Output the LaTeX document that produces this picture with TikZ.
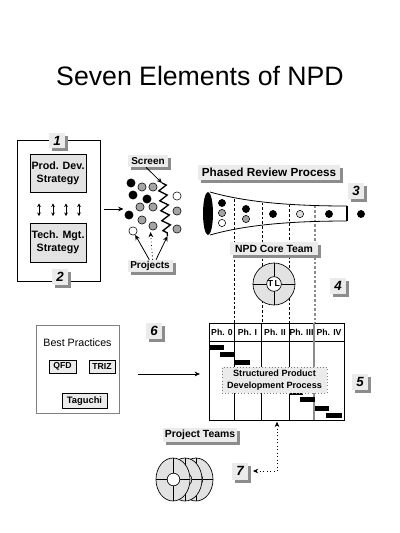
\documentclass[tikz,border=0pt]{standalone}
\usepackage{fontspec}
\setmainfont{Liberation Sans}
\usetikzlibrary{arrows.meta,shadows,decorations.pathmorphing}
\definecolor{lblfill}{HTML}{EBEBEB}
\definecolor{shadowc}{HTML}{8C8C8C}
\definecolor{boxfill}{HTML}{E3E3E3}
\definecolor{dotgray}{HTML}{A3A3A3}
\definecolor{ringfill}{HTML}{E2E2E2}
\definecolor{lightdot}{HTML}{DCDCDC}
\tikzset{
  shad/.style={drop shadow={shadow xshift=2.25pt, shadow yshift=-2.25pt, fill=shadowc, opacity=1}},
  lbl/.style={fill=lblfill, shad, inner xsep=2pt, inner ysep=0pt, font=\bfseries\fontsize{7.5}{9}\selectfont},
  numbox/.style={fill=lblfill, shad, minimum width=12pt, minimum height=11.5pt, inner sep=0pt, font=\bfseries\itshape\fontsize{10}{10}\selectfont},
  stratbox/.style={draw, line width=0.5pt, fill=boxfill, minimum width=42pt, minimum height=28.5pt, align=center, inner sep=0.5pt, font=\bfseries\fontsize{8}{10}\selectfont},
  dot/.style={circle, draw, line width=0.4pt, minimum size=6.2pt, inner sep=0pt},
  fdot/.style={circle, draw, line width=0.4pt, minimum size=5.4pt, inner sep=0pt},
  arr/.style={-{Stealth[length=4pt,width=3.5pt]}, line width=0.6pt},
  dblarr/.style={{Stealth[length=2.6pt,width=2.8pt]}-{Stealth[length=2.6pt,width=2.8pt]}, line width=0.5pt},
  smallbox/.style={draw, line width=0.5pt, fill=lblfill, inner sep=0pt, font=\bfseries\fontsize{6.5}{8}\selectfont},
  phase/.style={font=\bfseries\fontsize{6.5}{8}\selectfont, inner sep=0pt},
  vdash/.style={dash pattern=on 2pt off 1.5pt, line width=0.4pt},
}
\begin{document}
\begin{tikzpicture}[x=0.75pt,y=-0.75pt]
\useasboundingbox[fill=white] (0,0) rectangle (400,533);

% title
\node[anchor=base, inner sep=0pt, font=\fontsize{20}{22}\selectfont] (title) at (200,85) {Seven Elements of NPD};

% ---- element 1/2: strategy box
\node[draw, line width=0.6pt, minimum width=62.25pt, minimum height=105.75pt, inner sep=0pt] (bigbox) at (58.5,210.5) {};
\node[stratbox] (prod) at (58,173.5) {Prod. Dev.\\Strategy};
\node[stratbox, minimum height=29.25pt] (tech) at (58,242.5) {Tech. Mgt.\\Strategy};
\foreach \xx in {39,53,66,79}{
  \draw[dblarr, shorten <=8pt, shorten >=5pt] (prod.south -| \xx,0) -- (tech.north -| \xx,0);
}
\node[numbox] (n1) at (57,140.5) {1};
\node[numbox] (n2) at (60,277) {2};

% ---- screen and projects
\coordinate (clin) at (123.5,209);
\draw[arr, shorten <=3pt] (bigbox.east |- clin) -- (clin);

\node[dot, fill=black]    (d1)  at (131,183) {};
\node[dot, fill=dotgray]  (d2)  at (142,187) {};
\node[dot, fill=dotgray]  (d3)  at (153,187) {};
\node[dot, fill=black]    (d4)  at (133,195) {};
\node[dot, fill=black]    (d5)  at (147,199) {};
\node[dot, fill=white]    (d6)  at (177,196) {};
\node[dot, fill=dotgray]  (d7)  at (140,207) {};
\node[dot, fill=dotgray]  (d8)  at (153,207) {};
\node[dot, fill=black]    (d9)  at (129,215) {};
\node[dot, fill=dotgray]  (d10) at (142,220) {};
\node[dot, fill=dotgray]  (d11) at (153,226) {};
\node[dot, fill=dotgray]  (d12) at (177,211) {};
\node[dot, fill=white]    (d13) at (133,231) {};
\node[dot, fill=dotgray]  (d14) at (177,229) {};

\coordinate (zz1) at (162,183);
\coordinate (zz2) at (167.5,236);
\draw[line width=1pt, decorate, decoration={zigzag, segment length=7.5pt, amplitude=3pt}] (zz1) -- (zz2);

\node[lbl, minimum width=30pt, minimum height=9pt] (screen) at (148,161) {Screen};
\draw[arr] ([xshift=-1.5pt]screen.south) -- (zz1);

\node[lbl, minimum width=33.75pt, minimum height=9pt] (projects) at (150,266) {Projects};
\draw[arr] ([xshift=-0.5pt]projects.north) -- (d13);
\draw[arr, dotted, shorten >=4.5pt] ([xshift=2pt]projects.north) -- (projects.north |- d11);
\draw[arr] ([xshift=4.5pt]projects.north) -- (zz2);

% ---- phased review process
\node[lbl, minimum width=106.5pt, minimum height=11.25pt, font=\bfseries\fontsize{8.8}{10}\selectfont] (phased) at (269,172.5) {Phased Review Process};
\node[numbox] (n3) at (356,191) {3};

% gantt frame and dashed phase lines
\node[draw, line width=0.6pt, minimum width=101.25pt, minimum height=72.75pt, inner sep=0pt] (gantt) at (276.5,371.5) {};
\draw[vdash] (234,199) -- (gantt.north -| 234,0);
\draw[vdash] (262,202.5) -- (gantt.north -| 262,0);
\draw[vdash] (289,204.5) -- (gantt.north -| 289,0);
\draw[vdash, draw=shadowc, line width=0.8pt] (315,205.5) -- (gantt.north -| 315,0);

% funnel
\draw[line width=0.6pt] (210,192) .. controls (245,202) and (290,206) .. (347,206);
\draw[line width=0.6pt] (210,235) .. controls (245,225) and (290,221) .. (347,221);
\draw[line width=1.1pt] (347,206) -- (347,221);
\fill (208,213.5) ellipse [x radius=5, y radius=21.5];
\node[fdot, fill=black]    (f1) at (222,203) {};
\node[fdot, fill=dotgray]  (f2) at (222,213) {};
\node[fdot, fill=white]    (f3) at (222,223) {};
\node[fdot, fill=black]    (f4) at (246,209) {};
\node[fdot, fill=dotgray]  (f5) at (246,219) {};
\node[fdot, fill=black]    (f6) at (273,214) {};
\node[fdot, fill=lightdot] (f7) at (300,214) {};
\node[fdot, fill=black]    (f8) at (329,214) {};
\node[fdot, fill=black]    (f9) at (361,214) {};

% ---- core team
\node[lbl, minimum width=66pt, minimum height=9.75pt, font=\bfseries\fontsize{7.8}{9}\selectfont] (core) at (274,248.5) {NPD Core Team};
\node[circle, draw, line width=0.5pt, fill=ringfill, minimum size=31.5pt, inner sep=0pt] (ring) at (274,284) {};
\draw[line width=0.5pt] (ring.north) -- (ring.south);
\draw[line width=0.5pt] (ring.west) -- (ring.east);
\node[circle, draw, line width=0.5pt, fill=white, minimum size=11pt, inner sep=0pt, font=\bfseries\fontsize{6.5}{7}\selectfont] (tl) at (ring.center) {T\,L};
\node[numbox] (n4) at (338,286) {4};

% ---- gantt
\draw[line width=0.6pt] (gantt.west |- 0,341) -- (gantt.east |- 0,341);
\foreach \xx in {234,261,289}{
  \draw[line width=0.5pt] (gantt.north -| \xx,0) -- (gantt.south -| \xx,0);
}
\draw[line width=1pt, draw=shadowc] (gantt.north -| 314,0) -- (gantt.south -| 314,0);
\node[phase] (p0) at (222,332) {Ph. 0};
\node[phase] (p1) at (247.5,332) {Ph. I};
\node[phase] (p2) at (275,332) {Ph. II};
\node[phase] (p3) at (301.5,332) {Ph. III};
\node[phase] (p4) at (329,332) {Ph. IV};
\fill (209.5,345) rectangle (224,349.5);
\fill (220,352) rectangle (235,357);
\fill (235,359.5) rectangle (250,364.5);
\fill (289,390) rectangle (303,395);
\fill (300,397) rectangle (315,402);
\fill (315,406) rectangle (329,411);
\fill (326,412.5) rectangle (342,417.5);
\node[fill=lblfill, draw=gray, dotted, minimum width=78.75pt, minimum height=19.5pt, align=center, inner sep=0pt, font=\bfseries\fontsize{6.8}{8.6}\selectfont] (spdp) at (274.5,380) {Structured Product\\Development Process};
\node[numbox] (n5) at (360,382) {5};

% ---- best practices
\node[draw=gray, line width=0.5pt, minimum width=62.25pt, minimum height=66pt, inner sep=0pt] (bp) at (77.5,369) {};
\node[inner sep=0pt, font=\fontsize{8}{9}\selectfont] (bpt) at (77.5,343) {Best Practices};
\node[smallbox, minimum width=20pt, minimum height=9.75pt] (qfd) at (62.5,366.5) {QFD};
\node[smallbox, minimum width=19.5pt, minimum height=9.75pt] (triz) at (102,366.5) {TRIZ};
\node[smallbox, minimum width=34pt, minimum height=11pt, font=\bfseries\fontsize{7}{8}\selectfont] (tag) at (84.5,401) {Taguchi};
\node[numbox] (n6) at (154,331) {6};
\draw[arr, line width=0.5pt, shorten <=14pt, shorten >=6.5pt] (bp.east |- 0,374) -- (gantt.west |- 0,374);

% ---- project teams
\node[lbl, minimum width=55.5pt, minimum height=10.5pt, inner xsep=1pt, font=\bfseries\fontsize{7.8}{9}\selectfont] (pteams) at (200,435) {Project Teams};
\foreach \cx in {196,185,173}{
  \filldraw[fill=ringfill, line width=0.5pt] (\cx,479.5) ellipse [x radius=17, y radius=21.5];
  \draw[line width=0.5pt] (\cx,458) -- (\cx,501);
  \draw[line width=0.5pt] (\cx-17,479.5) -- (\cx+17,479.5);
  \filldraw[fill=white, line width=0.5pt] (\cx+0.5,479.5) circle [radius=6.3];
}
\node[numbox, minimum height=12.75pt] (n7) at (240,471) {7};
\draw[dotted, line width=0.6pt, {Stealth[length=4pt,width=3.5pt]}-{Stealth[length=4pt,width=3.5pt]}, shorten <=1pt, shorten >=3.5pt] (gantt.south -| 277,0) |- (n7.east);
\end{tikzpicture}
\end{document}
